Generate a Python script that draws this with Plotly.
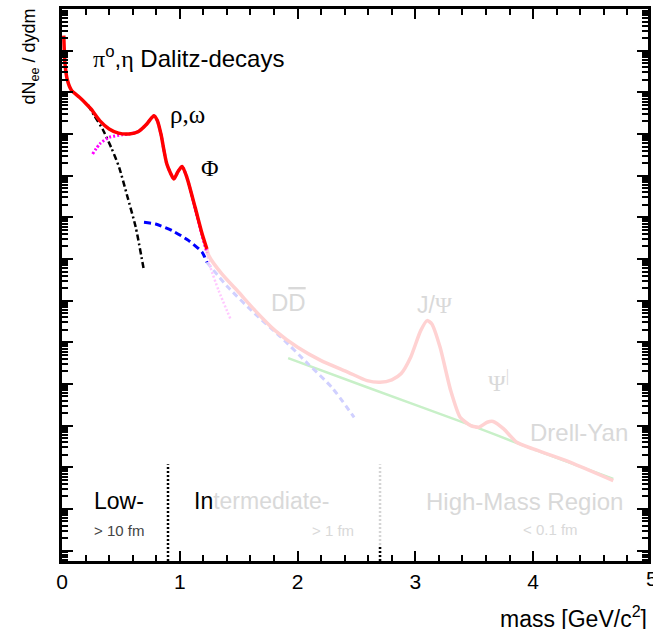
import numpy as np
import plotly.graph_objects as go

# ---- data (mass in GeV/c^2, yield given as log10 of dN/dydm) ----
total_x = [0.015, 0.025, 0.045, 0.08, 0.148, 0.20, 0.246, 0.32, 0.40, 0.48, 0.57, 0.65, 0.72,
           0.78, 0.81, 0.84, 0.89, 0.95, 0.985, 1.02, 1.06, 1.13, 1.19, 1.23]
total_log = [12.36, 11.7, 11.3, 11.05, 10.88, 10.74, 10.6, 10.32, 10.12, 10.02, 10.0, 10.06, 10.24,
             10.44, 10.32, 10.0, 9.28, 8.92, 9.1, 9.22, 8.96, 8.24, 7.6, 7.24]

total_hi_x = [1.23, 1.246, 1.357, 1.50, 1.64, 1.81, 2.0, 2.20, 2.43, 2.59, 2.70, 2.80, 2.88, 2.96,
              3.045, 3.10, 3.14, 3.21, 3.30, 3.38, 3.47, 3.54, 3.61, 3.66, 3.75, 3.86, 4.0, 4.28, 4.68]
total_hi_log = [7.24, 7.08, 6.64, 6.2, 5.76, 5.28, 4.88, 4.56, 4.28, 4.08, 4.04, 4.1, 4.25, 4.64,
                5.28, 5.52, 5.44, 4.88, 3.84, 3.20, 3.0, 2.96, 3.08, 3.10, 2.92, 2.60, 2.44, 2.16, 1.68]

dalitz_x = [0.22, 0.274, 0.344, 0.42, 0.485, 0.555, 0.626, 0.696]
dalitz_log = [10.7, 10.44, 10.12, 9.66, 9.2, 8.5, 7.76, 6.72]

vector_x = [0.26, 0.32, 0.40, 0.51, 0.57, 0.65, 0.72, 0.78, 0.81, 0.84, 0.89, 0.95, 0.985,
            1.02, 1.06, 1.13, 1.19, 1.23]
vector_log = [9.52, 9.76, 9.92, 9.98, 10.0, 10.06, 10.24, 10.44, 10.32, 10.0, 9.28, 8.92, 9.1,
              9.22, 8.96, 8.2, 7.55, 7.15]
vector_hi_x = [1.23, 1.26, 1.33, 1.43]
vector_hi_log = [7.15, 6.8, 6.24, 5.56]

charm_x = [0.696, 0.795, 0.935, 1.076, 1.19, 1.23]
charm_log = [7.88, 7.84, 7.68, 7.44, 7.16, 6.92]
charm_hi_x = [1.23, 1.41, 1.64, 1.86, 2.09, 2.29, 2.48]
charm_hi_log = [6.92, 6.32, 5.68, 5.12, 4.48, 3.92, 3.20]

dy_x = [1.92, 2.59, 3.44, 3.92, 4.68]
dy_log = [4.62, 3.92, 3.04, 2.52, 1.72]

boundary_x = [0.9, 2.7]
boundary_log = [-0.25, 2.07]

x_ticks = [0, 1, 2, 3, 4]
x_edge_label = "5"
decades = list(range(0, 14))

def ylin(v):
    return np.power(10.0, np.asarray(v, dtype=float))

fig = go.Figure()

def add(x, ylog, color, width, dash="solid"):
    fig.add_trace(go.Scatter(x=x, y=ylin(ylog), mode="lines", showlegend=False, hoverinfo="skip",
                             line=dict(color=color, width=width, dash=dash, shape="spline", smoothing=0.6)))

# faded parts first (underneath)
add(dy_x, dy_log, "#c8f0c8", 2.5)
add(charm_hi_x, charm_hi_log, "#d0d0ff", 3, "6px,4px")
add(vector_hi_x, vector_hi_log, "#ffc8ff", 2.5, "2px,2px")
add(total_hi_x, total_hi_log, "#ffd2d2", 3.5)
# bright parts
add(dalitz_x, dalitz_log, "#000000", 2.5, "6px,3px,2px,3px")
add(charm_x, charm_log, "#0000ff", 3, "7px,4px")
add(vector_x, vector_log, "#ff00ff", 3, "2px,2px")
add(total_x, total_log, "#ff0000", 3.5)

# region boundaries
fig.add_trace(go.Scatter(x=[boundary_x[0]] * 2, y=ylin(boundary_log), mode="lines", showlegend=False,
                         hoverinfo="skip", line=dict(color="#000000", width=2.5, dash="2px,2px")))
fig.add_trace(go.Scatter(x=[boundary_x[1]] * 2, y=ylin(boundary_log), mode="lines", showlegend=False,
                         hoverinfo="skip", line=dict(color="#d4d4d4", width=2.5, dash="2px,2px")))
fig.add_trace(go.Scatter(x=[boundary_x[1]] * 2, y=ylin([boundary_log[0], 0.1]), mode="lines",
                         showlegend=False, hoverinfo="skip",
                         line=dict(color="#000000", width=2.5, dash="2px,2px")))

SANS = "Liberation Sans, Arial, sans-serif"
SERIF = "Liberation Serif, Times New Roman, serif"
FADE = "#d9d9d9"

def ann(text, x, ylog, size=24, color="#000000", family=SANS, xanchor="left"):
    fig.add_annotation(x=x, y=ylog, text=text, showarrow=False, xanchor=xanchor, yanchor="middle",
                       font=dict(size=size, color=color, family=family))

ann("<span style='font-family:Liberation Serif'>π</span><sup>o</sup>,"
    "<span style='font-family:Liberation Serif'>η</span> Dalitz-decays", 0.25, 11.85)
ann("ρ,ω", 0.9, 10.46, size=25, family=SERIF)
ann("Φ", 1.16, 9.18, size=24, family=SERIF)
ann("D<span style='text-decoration:overline'>D</span>", 1.76, 5.96, color=FADE)
ann("J/<span style='font-family:Liberation Serif'>Ψ</span>", 3.0, 5.89, size=23, color=FADE)
ann("Ψ<sup>|</sup>", 3.6, 4.06, size=24, color=FADE, family=SERIF)
ann("Drell-Yan", 3.96, 2.83, color=FADE)
ann("Low-", 0.257, 1.18, size=23)
ann("&gt; 10 fm", 0.257, 0.48, size=15, color="#444444")
ann("In<span style='color:#d9d9d9'>termediate-</span>", 1.10, 1.18, size=23)
ann("&gt; 1 fm", 2.105, 0.48, size=15, color=FADE)
ann("High-Mass Region", 3.07, 1.18, color=FADE)
ann("&lt; 0.1 fm", 3.90, 0.50, size=15, color=FADE)

# axis titles and the edge tick label
fig.add_annotation(xref="paper", yref="paper", x=1.0017, y=-0.101, text="mass [GeV/c<sup>2</sup>]",
                   showarrow=False, xanchor="right", yanchor="middle",
                   font=dict(size=23, family=SANS, color="#000000"))
fig.add_annotation(xref="paper", yref="paper", x=-0.0535, y=1.004, text="dN<sub>ee</sub> / dydm",
                   showarrow=False, xanchor="center", yanchor="top", textangle=-90,
                   font=dict(size=18, family=SANS, color="#000000"))
fig.add_annotation(xref="paper", yref="paper", x=1.0063, y=-0.0315, text=x_edge_label,
                   showarrow=False, xanchor="center", yanchor="middle",
                   font=dict(size=21, family=SANS, color="#000000"))

minor_y = [m * 10.0 ** k for k in range(-1, 14) for m in range(2, 10)]

fig.update_xaxes(range=[0, 4.975], tickvals=x_ticks, ticktext=[str(v) for v in x_ticks],
                 ticks="inside", ticklen=10, tickwidth=2, tickcolor="#000000",
                 showline=True, linewidth=3, linecolor="#000000", mirror="allticks",
                 showgrid=False, zeroline=False,
                 tickfont=dict(size=21, family=SANS, color="#000000"),
                 minor=dict(dtick=0.2, tick0=0, ticks="inside", ticklen=6, tickwidth=2,
                            tickcolor="#000000", showgrid=False))
fig.update_yaxes(type="log", range=[-0.25, 13.0], tickvals=[10.0 ** k for k in decades],
                 showticklabels=False, ticks="inside", ticklen=11, tickwidth=2, tickcolor="#000000",
                 showline=True, linewidth=3, linecolor="#000000", mirror="allticks",
                 showgrid=False, zeroline=False,
                 minor=dict(tickvals=minor_y, ticks="inside", ticklen=6, tickwidth=1.5,
                            tickcolor="#000000", showgrid=False))

fig.update_layout(width=653, height=629, margin=dict(l=62, r=2, t=9, b=68),
                  paper_bgcolor="#ffffff", plot_bgcolor="#ffffff", showlegend=False)

fig.write_html("out.html")
